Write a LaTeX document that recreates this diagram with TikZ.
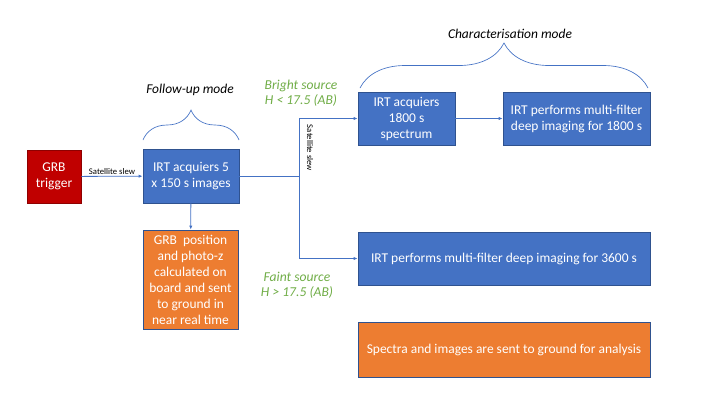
\documentclass[tikz,border=0pt]{standalone}
\usepackage{fontspec}
\setmainfont{Carlito}
\usetikzlibrary{arrows.meta,decorations.pathreplacing}

\definecolor{grbred}{HTML}{C00000}
\definecolor{rededge}{HTML}{8E0000}
\definecolor{irtblue}{HTML}{4472C4}
\definecolor{blueedge}{HTML}{2F528F}
\definecolor{irtorange}{HTML}{ED7D31}
\definecolor{srcgreen}{HTML}{70AD47}

\tikzset{
    box/.style={draw=blueedge, line width=0.6pt, text=white, align=center, inner sep=1pt,
        font=\fontsize{10.1}{12}\selectfont},
    bluebox/.style={box, fill=irtblue},
    orangebox/.style={box, fill=irtorange},
    link/.style={draw=irtblue, line width=0.6pt, -{Latex[length=3pt,width=2.5pt]}},
    modebrace/.style={draw=irtblue, line width=0.5pt, decorate, decoration={brace, amplitude=#1}},
    modelabel/.style={font=\fontsize{10.1}{12}\selectfont\itshape},
    srclabel/.style={text=srcgreen, align=center, font=\fontsize{10.2}{11.5}\selectfont\itshape},
    slewlabel/.style={font=\fontsize{6.5}{7}\selectfont, inner sep=1pt}
}

\begin{document}
\begin{tikzpicture}[x=0.75pt, y=-0.75pt]
    \useasboundingbox (0,0) rectangle (720,405);

    % follow-up mode
    \node [box, fill=grbred, draw=rededge, minimum width=40.5pt, minimum height=39.75pt]
        (grb) at (54,176.5) {GRB\\trigger};
    \node [bluebox, minimum width=72pt, minimum height=40.5pt]
        (followup) at (191,176) {IRT acquiers 5\\x 150 s images};
    \node [orangebox, minimum width=71.25pt, minimum height=74.25pt]
        (photoz) at (190.5,279.5) {GRB~ position\\and photo-z\\calculated on\\board and sent\\to ground in\\near real time};

    % characterisation mode
    \node [bluebox, minimum width=72.75pt, minimum height=39.75pt]
        (spectrum) at (406.5,118.5) {IRT acquiers\\1800 s\\spectrum};
    \node [bluebox, minimum width=110.25pt, minimum height=39.75pt]
        (brightimg) at (576.5,118.5) {IRT performs multi-filter\\deep imaging for 1800 s};
    \node [bluebox, minimum width=219pt, minimum height=39.75pt]
        (faintimg) at (504,258.5) {IRT performs multi-filter deep imaging for 3600 s};
    \node [orangebox, minimum width=219pt, minimum height=41.25pt]
        (analysis) at (504,349.5) {Spectra and images are sent to ground for analysis};

    % connectors
    \coordinate (split) at (299,176);
    \draw [link] (grb) -- node [above, slewlabel, text=black] (slew1) {Satellite slew} (followup);
    \draw [link] (followup) -- (photoz);
    \draw [draw=irtblue, line width=0.6pt] (followup) -- (split);
    \draw [link] (split) |- (spectrum);
    \draw [link] (split) |- (faintimg);
    \draw [link] (spectrum) -- (brightimg);
    \node [slewlabel, rotate=-90] (slew2) at (310,148) {Satellite slew};

    % source labels
    \node [srclabel] (bright) at (301,93) {Bright source\\H < 17.5 (AB)};
    \node [srclabel] (faint) at (297,285) {Faint source\\H > 17.5 (AB)};

    % mode braces
    \draw [modebrace=22.5pt] (143,140) -- (239,140);
    \node [modelabel] (fumode) at (190,90) {Follow-up mode};
    \draw [modebrace=33.75pt] (360,88) -- (648,88);
    \node [modelabel] (charmode) at (510,34) {Characterisation mode};

\end{tikzpicture}
\end{document}
